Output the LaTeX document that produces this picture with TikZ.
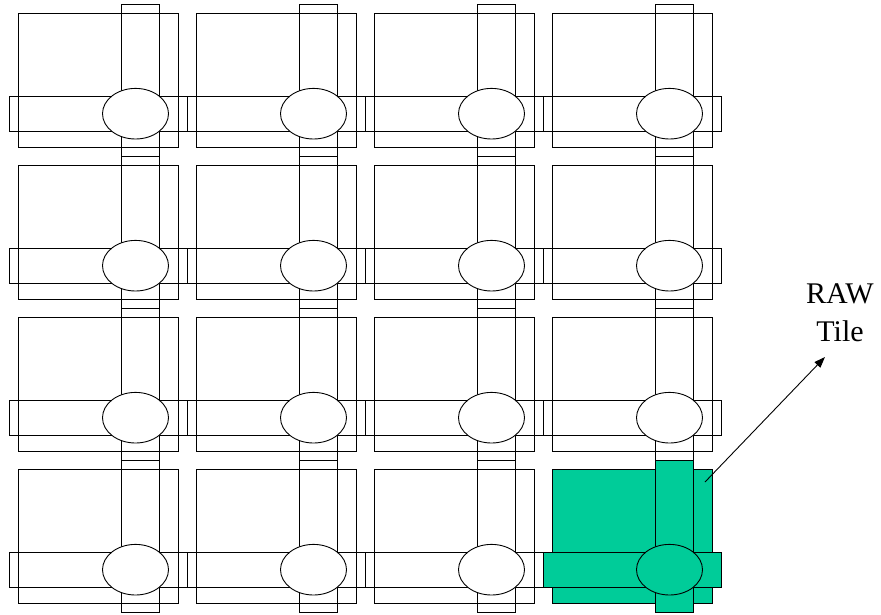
\documentclass[tikz,border=0pt]{standalone}
\usepackage{fontspec}
\setmainfont{Liberation Serif}
\usetikzlibrary{arrows.meta, positioning}
\definecolor{rawgreen}{RGB}{0,204,153}

\begin{document}
\begin{tikzpicture}[
  x=1pt, y=-1pt, line width=0.9pt,
  >={Triangle[length=11pt, width=8pt]},
  part/.style={draw=black},
  lbl/.style={font=\fontsize{30}{38.5}\selectfont, align=center, inner sep=0pt}
]
  \def\dx{178}  \def\dy{152}
  \def\tw{160}  \def\th{134}
  \useasboundingbox (0,0) rectangle (881,614);

  %--- 4x4 grid of tiles (last one is the RAW tile) ---
  \foreach \col in {0,...,3}
    \foreach \row in {0,...,3} {
      \ifnum\col\row=33 \def\tc{rawgreen}\def\ec{rawgreen}%
      \else \def\tc{none}\def\ec{white}\fi
      \begin{scope}[shift={(18+\col*\dx,13+\row*\dy)}]
        % tile body
        \draw[part, fill=\tc] (0,0) rectangle (\tw,\th);
        % vertical / horizontal links
        \draw[part, fill=\tc] (103.7,-9) rectangle (141.3,\th+9);
        \draw[part, fill=\tc] (-9,83.7) rectangle (\tw+9,118);
        % switch
        \draw[part, fill=\ec] (117.5,100.7) ellipse [x radius=33, y radius=25.3];
      \end{scope}
    }

  %--- label ---
  \node[lbl] (raw) at (840,312.5) {RAW\\Tile};
  \coordinate (tail) at (705,482);
  \coordinate (tip)  at (825,357);
  \draw[->] (tail) -- (tip);

\end{tikzpicture}
\end{document}
